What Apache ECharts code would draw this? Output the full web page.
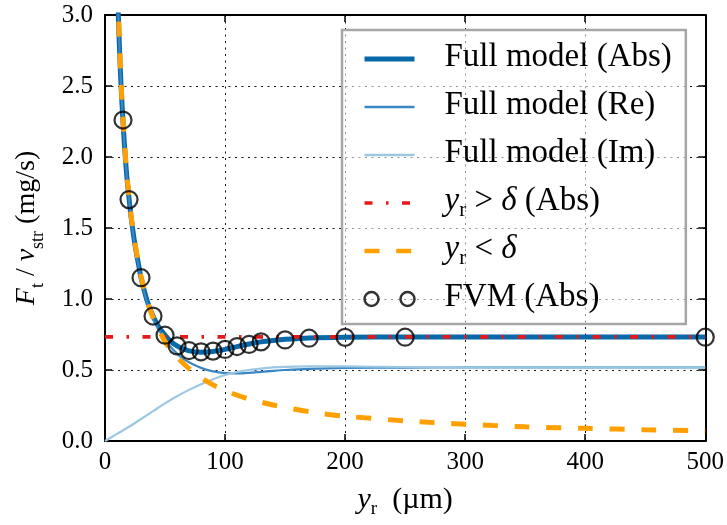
<!DOCTYPE html>
<html>
<head>
<meta charset="utf-8">
<script src="https://cdn.jsdelivr.net/npm/echarts@6/dist/echarts.min.js"></script>
<style>
html,body{margin:0;padding:0;background:#fff;}
#chart{width:727px;height:525px;}
</style>
</head>
<body>
<div id="chart"></div>
<script>
// ---- data ----
const xModel   = [10,11,12,13,14,15,16,18,20,22,25,28,30,35,40,45,50,55,60,65,70,80,90,100,110,120,130,140,150,170,200,250,300,400,500];
const absModel = [3.30,3.02,2.78,2.57,2.40,2.25,2.11,1.88,1.71,1.56,1.38,1.24,1.15,0.99,0.88,0.80,0.745,0.70,0.67,0.65,0.635,0.625,0.63,0.645,0.665,0.683,0.698,0.708,0.716,0.726,0.731,0.733,0.733,0.733,0.733];
const reModel  = [3.30,3.02,2.78,2.57,2.40,2.25,2.11,1.88,1.70,1.55,1.37,1.23,1.14,0.975,0.86,0.78,0.715,0.66,0.615,0.58,0.555,0.515,0.49,0.478,0.476,0.48,0.487,0.494,0.50,0.508,0.514,0.517,0.518,0.518,0.518];
const xIm      = [0,10,20,30,40,50,60,70,80,90,100,110,120,130,140,150,170,200,250,300,400,500];
const imModel  = [0,0.05,0.10,0.155,0.21,0.265,0.315,0.36,0.40,0.435,0.465,0.486,0.50,0.51,0.518,0.522,0.526,0.525,0.521,0.519,0.518,0.518];
const xLarge   = [0,500];
const absLarge = [0.733,0.733];
const xSmall   = [10,11,12,13,14,15,16,18,20,22,25,28,30,35,40,45,50,55,60,70,80,90,100,120,150,175,200,250,300,350,400,450,500];
const absSmall = [3.40,3.08,2.82,2.60,2.42,2.27,2.13,1.90,1.72,1.57,1.39,1.25,1.16,0.99,0.87,0.78,0.70,0.64,0.59,0.51,0.445,0.395,0.355,0.295,0.236,0.20,0.175,0.142,0.118,0.10,0.089,0.079,0.071];
const xFVM     = [15,20,30,40,50,60,70,80,90,100,110,120,130,150,170,200,250,500];
const absFVM   = [2.26,1.70,1.15,0.88,0.745,0.67,0.637,0.628,0.633,0.645,0.665,0.68,0.698,0.712,0.724,0.73,0.731,0.731];
const xTicks   = [0,100,200,300,400,500];
const yTicks   = [0.0,0.5,1.0,1.5,2.0,2.5,3.0];
const seriesNames = ['Full model (Abs)','Full model (Re)','Full model (Im)','yr > δ (Abs)','yr < δ','FVM (Abs)'];

const zip = (xs, ys) => xs.map((x, i) => [x, ys[i]]);
const FONT = 'Liberation Serif';

const gridLine = {show:true, lineStyle:{color:'#111', width:1, type:[2,4.5]}};
const axisLineStyle = {show:true, onZero:false, lineStyle:{color:'#000', width:2}};
const tickStyle = {show:true, inside:true, length:7, lineStyle:{color:'#000', width:1.5}};

const chart = echarts.init(document.getElementById('chart'), null, {renderer:'canvas'});

const legendLabel = {
  'yr > δ (Abs)': '{i|y}{s|r}{n| > }{i|δ}{n| (Abs)}',
  'yr < δ': '{i|y}{s|r}{n| < }{i|δ}'
};
const noSym = {color:'rgba(0,0,0,0)', borderColor:'rgba(0,0,0,0)', borderWidth:0};

chart.setOption({
  animation:false,
  backgroundColor:'#fff',
  grid:{left:105, right:21, top:15, bottom:84, show:false},
  xAxis:[{
    type:'value', min:xTicks[0], max:xTicks[xTicks.length-1], interval:100,
    position:'bottom',
    axisLine:axisLineStyle, axisTick:tickStyle, splitLine:gridLine,
    axisLabel:{color:'#000', fontFamily:FONT, fontSize:25, margin:9},
    name:'{i|y}{s|r}{n|  (µm)}', nameLocation:'middle', nameGap:44,
    nameTextStyle:{color:'#000', fontFamily:FONT, rich:{
      i:{fontSize:30, fontStyle:'italic', fontFamily:FONT, lineHeight:34, verticalAlign:'top'},
      s:{fontSize:19, fontFamily:FONT, lineHeight:18, verticalAlign:'bottom'},
      n:{fontSize:30, fontFamily:FONT, lineHeight:34, verticalAlign:'top'}
    }}
  },{
    type:'value', min:xTicks[0], max:xTicks[xTicks.length-1], interval:100,
    position:'top',
    axisLine:axisLineStyle, axisTick:tickStyle, splitLine:{show:false},
    axisLabel:{show:false}
  }],
  yAxis:[{
    type:'value', min:yTicks[0], max:yTicks[yTicks.length-1], interval:0.5,
    position:'left',
    axisLine:axisLineStyle, axisTick:tickStyle, splitLine:gridLine,
    axisLabel:{color:'#000', fontFamily:FONT, fontSize:25, margin:12, formatter:v=>v.toFixed(1)},
    name:'{i|F}{s|t}{n| / }{i|v}{s|str}{n| (mg/s)}', nameLocation:'middle', nameGap:58, nameRotate:90,
    nameTextStyle:{color:'#000', fontFamily:FONT, rich:{
      i:{fontSize:28, fontStyle:'italic', fontFamily:FONT, lineHeight:34, verticalAlign:'top'},
      s:{fontSize:18, fontFamily:FONT, lineHeight:18, verticalAlign:'bottom'},
      n:{fontSize:28, fontFamily:FONT, lineHeight:34, verticalAlign:'top'}
    }}
  },{
    type:'value', min:yTicks[0], max:yTicks[yTicks.length-1], interval:0.5,
    position:'right',
    axisLine:axisLineStyle, axisTick:tickStyle, splitLine:{show:false},
    axisLabel:{show:false}
  }],
  legend:{
    orient:'vertical', left:342, top:30,
    padding:[11,14,7,20],
    backgroundColor:'rgba(255,255,255,0.55)',
    borderColor:'#a6a6a6', borderWidth:2.5, borderRadius:0,
    itemWidth:50, itemHeight:14, itemGap:12,
    selectedMode:false,
    formatter: n => legendLabel[n] || ('{n|' + n + '}'),
    textStyle:{color:'#000', fontFamily:FONT, fontSize:33, lineHeight:36, padding:[0,0,0,25],
      rich:{
        n:{fontSize:33, fontFamily:FONT, lineHeight:36, verticalAlign:'top'},
        i:{fontSize:33, fontStyle:'italic', fontFamily:FONT, lineHeight:36, verticalAlign:'top'},
        s:{fontSize:21, fontFamily:FONT, lineHeight:20, verticalAlign:'bottom'}
      }},
    data:[
      {name:seriesNames[0], itemStyle:noSym, lineStyle:{width:5}},
      {name:seriesNames[1], itemStyle:noSym, lineStyle:{width:2.5}},
      {name:seriesNames[2], itemStyle:noSym, lineStyle:{width:2.5}},
      {name:seriesNames[3], itemStyle:noSym, lineStyle:{width:3.5}},
      {name:seriesNames[4], itemStyle:noSym, lineStyle:{width:4.5}},
      {name:seriesNames[5], icon:'path://M0,7 A7,7 0 1,0 14,7 A7,7 0 1,0 0,7 Z M36,7 A7,7 0 1,0 50,7 A7,7 0 1,0 36,7 Z',
        itemStyle:{color:'rgba(0,0,0,0)', borderColor:'#000', borderWidth:2.5}}
    ]
  },
  series:[
    {name:seriesNames[0], type:'line', data:zip(xModel, absModel), smooth:0.3, symbol:'none', clip:true,
      lineStyle:{color:'#0868a8', width:5}, itemStyle:{color:'#0868a8'}, z:2},
    {name:seriesNames[1], type:'line', data:zip(xModel, reModel), smooth:0.3, symbol:'none', clip:true,
      lineStyle:{color:'#3a87c4', width:2.2}, itemStyle:{color:'#3a87c4'}, z:3},
    {name:seriesNames[2], type:'line', data:zip(xIm, imModel), smooth:0.3, symbol:'none', clip:true,
      lineStyle:{color:'#9cc8e3', width:2.2}, itemStyle:{color:'#9cc8e3'}, z:4},
    {name:seriesNames[3], type:'line', data:zip(xLarge, absLarge), symbol:'none', clip:true,
      lineStyle:{color:'#e31a1c', width:3.8, type:[8,13.5,2.5,13.5]}, itemStyle:{color:'#e31a1c'}, z:5},
    {name:seriesNames[4], type:'line', data:zip(xSmall, absSmall), smooth:0.3, symbol:'none', clip:true,
      lineStyle:{color:'#ffa000', width:5, type:[15,16.7]}, itemStyle:{color:'#ffa000'}, z:6},
    {name:seriesNames[5], type:'scatter', data:zip(xFVM, absFVM), symbol:'circle', symbolSize:17, clip:true,
      itemStyle:{color:'rgba(0,0,0,0)', borderColor:'#000', borderWidth:2.2}, z:7}
  ]
});
</script>
</body>
</html>
